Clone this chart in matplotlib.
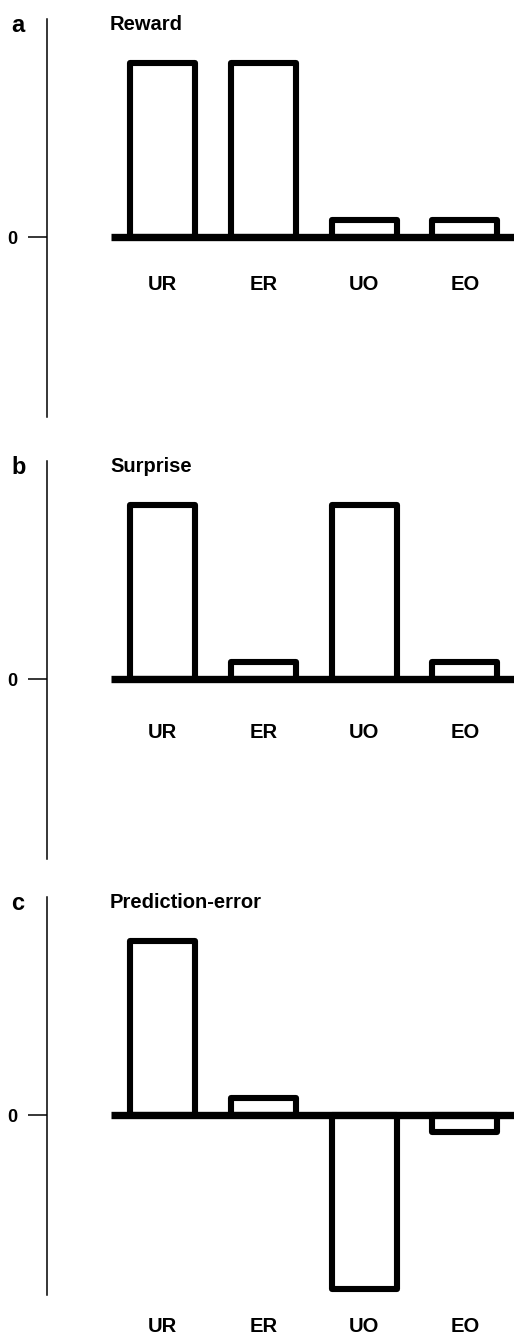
import matplotlib
matplotlib.use("Agg")
import matplotlib.pyplot as plt
import numpy as np

plt.rcParams['font.family'] = ['Liberation Sans', 'DejaVu Sans']
plt.rcParams['font.weight'] = 'bold'

categories = ['UR', 'ER', 'UO', 'EO']
reward = [1.0, 1.0, 0.1, 0.1]
surprise = [1.0, 0.1, 1.0, 0.1]
prediction_error = [1.0, 0.1, -1.0, -0.1]
titles = ['Reward', 'Surprise', 'Prediction-error']
letters = ['a', 'b', 'c']

W, H = 514, 1337
fig = plt.figure(figsize=(W / 100, H / 100), dpi=100)

def fx(px):
    return px / W

def fy(py):
    return 1 - py / H

zero_y = [237, 679, 1115]
label_off = [47, 54, 212]
unit = 174.0          # pixels per unit value
above, below = 218, 180
x_left, x_right = 47, 514
x0, step = 162.5, 100.8
lw = 4.4

for i, vals in enumerate([reward, surprise, prediction_error]):
    z = zero_y[i]
    ax = fig.add_axes([fx(x_left), fy(z + below), fx(x_right) - fx(x_left),
                       (above + below) / H])
    ax.set_xlim((x_left - x0) / step, (x_right - x0) / step)
    ax.set_ylim(-below / unit, above / unit)
    x = np.arange(len(categories))
    ax.bar(x, vals, width=65 / step, fill=False, edgecolor='black',
           linewidth=lw, joinstyle='round')
    ax.plot([(111 - x0) / step, (x_right - x0) / step + 0.1], [0, 0],
            color='black', linewidth=lw * 1.2, solid_capstyle='butt',
            clip_on=False)
    for xi, c in zip(x, categories):
        ax.text(xi, -label_off[i] / unit, c, ha='center', va='center',
                fontsize=14.5, fontweight='bold')
    for s in ['top', 'right', 'bottom']:
        ax.spines[s].set_visible(False)
    ax.spines['left'].set_linewidth(1.1)
    ax.set_xticks([])
    ax.set_yticks([0])
    ax.set_yticklabels(['0'], fontsize=13, fontweight='bold')
    ax.tick_params(axis='y', length=13.5, width=1.1, pad=8)
    ax.patch.set_visible(False)

    fig.text(fx(110), fy(z - 207), titles[i], fontsize=14.5,
             fontweight='bold', ha='left', va='baseline')
    fig.text(fx(11), fy(z - 205), letters[i], fontsize=17,
             fontweight='bold', ha='left', va='baseline')

fig.savefig('out.png', dpi=100)
